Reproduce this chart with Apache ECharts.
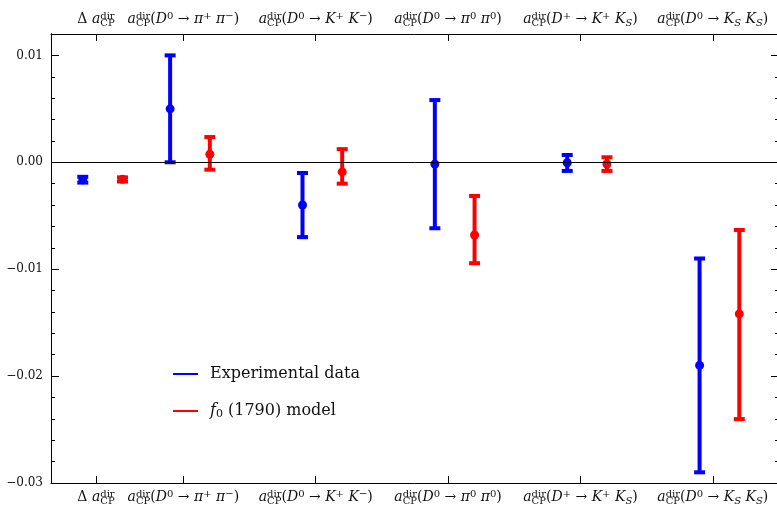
<!DOCTYPE html>
<html>
<head>
<meta charset="utf-8">
<script src="https://cdn.jsdelivr.net/npm/echarts@6/dist/echarts.min.js"></script>
<style>
  html, body { margin: 0; padding: 0; background: #fff; }
  #chart { width: 777px; height: 511px; }
</style>
</head>
<body>
<div id="chart"></div>
<script>
// group positions on the x axis (one per observable)
const groupX = [0.34, 1, 2, 3, 4, 5]

// tick labels (rich text)
const groupLabels = [
  '{r|Δ }{i|a}{sup|dir}{cp|CP}',
  '{i|a}{sup|dir}{cp|CP}{r|(}{i|D}{sup|0}{r| → }{i|π}{sup|+}{r| }{i|π}{sup|−}{r|)}',
  '{i|a}{sup|dir}{cp|CP}{r|(}{i|D}{sup|0}{r| → }{i|K}{sup|+}{r| }{i|K}{sup|−}{r|)}',
  '{i|a}{sup|dir}{cp|CP}{r|(}{i|D}{sup|0}{r| → }{i|π}{sup|0}{r| }{i|π}{sup|0}{r|)}',
  '{i|a}{sup|dir}{cp|CP}{r|(}{i|D}{sup|+}{r| → }{i|K}{sup|+}{r| }{i|K}{isub|S}{r|)}',
  '{i|a}{sup|dir}{cp|CP}{r|(}{i|D}{sup|0}{r| → }{i|K}{isub|S}{r| }{i|K}{isub|S}{r|)}'
]

// experimental data
const expVal = [-0.00163, 0.0050, -0.0040, -0.00017, -0.00004, -0.0190]
const expLow = [-0.0019, 0.0000, -0.0070, -0.00617, -0.00081, -0.0290]
const expHigh = [-0.00136, 0.0100, -0.0010, 0.00582, 0.00068, -0.0090]

// f0(1790) model
const modVal = [-0.00159, 0.00075, -0.0009, -0.0068, -0.00016, -0.01418]
const modLow = [-0.0018, -0.00069, -0.0020, -0.00944, -0.00081, -0.02402]
const modHigh = [-0.00141, 0.00236, 0.00123, -0.00315, 0.00047, -0.00633]

const FONT = '"DejaVu Serif", serif'
const SUP = 10

const measure = (text, font) => {
  const ctx = document.createElement('canvas').getContext('2d')
  ctx.font = font
  return ctx.measureText(text).width
}
const dirW = measure('dir', SUP + 'px "DejaVu Serif"')

const labelRich = {
  r: { fontFamily: FONT, fontSize: 14, color: '#111' },
  i: { fontFamily: FONT, fontSize: 14, fontStyle: 'italic', color: '#111' },
  sup: { fontFamily: FONT, fontSize: SUP, color: '#111', padding: [0, 0, 7, 0] },
  sub: { fontFamily: FONT, fontSize: SUP, color: '#111', padding: [7, 0, 0, 0] },
  isub: { fontFamily: FONT, fontSize: SUP, fontStyle: 'italic', color: '#111', padding: [7, 0, 0, 0] },
  cp: { fontFamily: FONT, fontSize: SUP, color: '#111', padding: [7, 0, 0, -dirW] }
}

const labelFor = v => {
  const i = groupX.findIndex(g => Math.abs(g - v) < 1e-6)
  return i < 0 ? '' : groupLabels[i]
}

const makeData = (offset, val, low, high) =>
  groupX.map((g, i) => [g + offset, val[i], low[i], high[i]])

const renderErr = (params, api) => {
  const x = api.value(0)
  const c = api.coord([x, api.value(1)])
  const lo = api.coord([x, api.value(2)])
  const hi = api.coord([x, api.value(3)])
  const color = api.visual('color')
  const w = 5.5
  const st = { stroke: color, lineWidth: 4, fill: null }
  return {
    type: 'group',
    children: [
      { type: 'line', shape: { x1: lo[0], y1: lo[1], x2: hi[0], y2: hi[1] }, style: st },
      { type: 'line', shape: { x1: lo[0] - w, y1: lo[1], x2: lo[0] + w, y2: lo[1] }, style: st },
      { type: 'line', shape: { x1: hi[0] - w, y1: hi[1], x2: hi[0] + w, y2: hi[1] }, style: st },
      { type: 'circle', shape: { cx: c[0], cy: c[1], r: 4.5 }, style: { fill: color } }
    ]
  }
}

const yLabel = v => {
  if (Math.abs(v * 100 - Math.round(v * 100)) > 1e-6) return ''
  return v.toFixed(2).replace('-', '−')
}

const xAxisBase = position => ({
  type: 'value',
  position,
  min: 0,
  max: 5.5,
  axisLine: { show: true, onZero: false, lineStyle: { color: '#000', width: 1 } },
  axisTick: { show: true, inside: true, length: 7, customValues: groupX, lineStyle: { color: '#000' } },
  axisLabel: { show: true, margin: 6, customValues: groupX, formatter: labelFor, rich: labelRich },
  splitLine: { show: false }
})

const yAxisBase = (position, interval, len, showLabel) => ({
  type: 'value',
  position,
  min: -0.03,
  max: 0.012,
  interval,
  axisLine: { show: true, onZero: false, lineStyle: { color: '#000', width: 1 } },
  axisTick: { show: true, inside: true, length: len, lineStyle: { color: '#000' } },
  axisLabel: {
    show: showLabel,
    showMaxLabel: false,
    margin: 8,
    formatter: yLabel,
    fontFamily: FONT,
    fontSize: 12,
    color: '#111'
  },
  splitLine: { show: false }
})

const chart = echarts.init(document.getElementById('chart'))
chart.setOption({
  animation: false,
  backgroundColor: '#fff',
  grid: { left: 51, right: -2, top: 34, bottom: 28, containLabel: false, outerBoundsMode: 'none' },
  xAxis: [xAxisBase('bottom'), xAxisBase('top')],
  yAxis: [
    yAxisBase('left', 0.002, 4, true),
    yAxisBase('left', 0.01, 8, false),
    yAxisBase('right', 0.002, 4, false),
    yAxisBase('right', 0.01, 8, false)
  ],
  legend: {
    orient: 'vertical',
    left: 173,
    top: 364,
    padding: 0,
    itemGap: 17,
    itemWidth: 25,
    itemHeight: 2,
    icon: 'rect',
    data: ['Experimental data', 'f0(1790) model'],
    formatter: name => name === 'Experimental data'
      ? '{p|Experimental data}'
      : '{pf|f}{sub|0}{r| (1790) model}',
    textStyle: {
      lineHeight: 20,
      rich: {
        p: { fontFamily: FONT, fontSize: 16, color: '#111', padding: [0, 0, 0, 7] },
        pf: { fontFamily: FONT, fontSize: 16, fontStyle: 'italic', color: '#111', padding: [0, 0, 0, 7] },
        r: { fontFamily: FONT, fontSize: 16, color: '#111' },
        sub: { fontFamily: FONT, fontSize: 11, color: '#111', padding: [6, 0, 0, 0] }
      }
    }
  },
  series: [
    {
      name: 'Experimental data',
      type: 'custom',
      renderItem: renderErr,
      itemStyle: { color: '#0000ff' },
      encode: { x: 0, y: [1, 2, 3] },
      data: makeData(-0.1, expVal, expLow, expHigh),
      z: 3,
      markLine: {
        silent: true,
        symbol: ['none', 'none'],
        label: { show: false },
        lineStyle: { color: '#000', width: 1, type: 'solid' },
        data: [{ yAxis: 0 }]
      }
    },
    {
      name: 'f0(1790) model',
      type: 'custom',
      renderItem: renderErr,
      itemStyle: { color: '#ff0000' },
      encode: { x: 0, y: [1, 2, 3] },
      data: makeData(0.2, modVal, modLow, modHigh),
      z: 3
    }
  ]
})
</script>
</body>
</html>
